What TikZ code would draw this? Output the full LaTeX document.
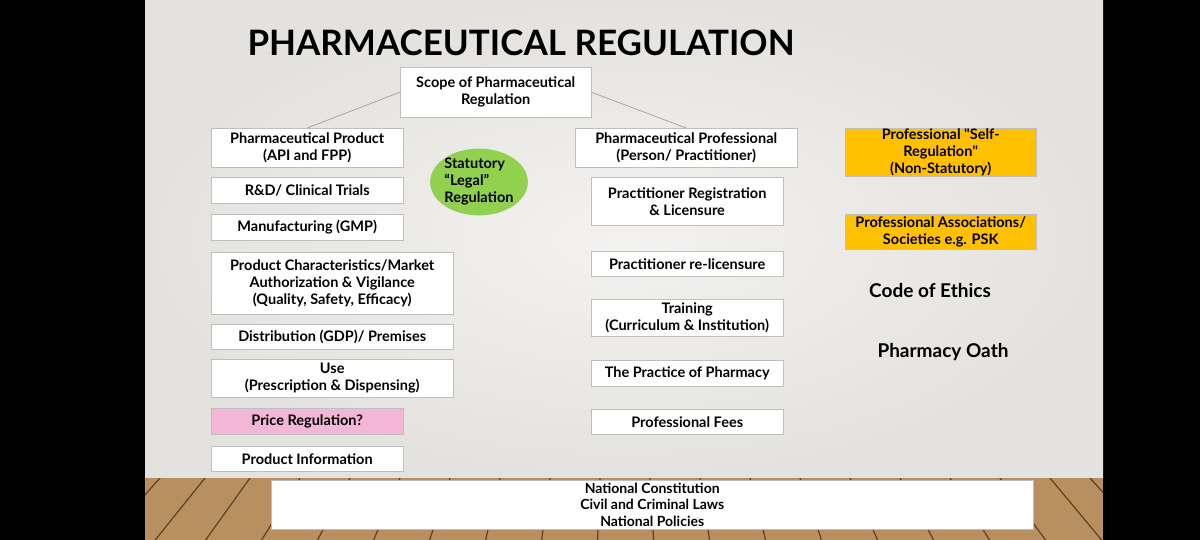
\documentclass[tikz,border=0pt]{standalone}
\usepackage{fontspec}
\setmainfont{Lato}
\newfontfamily\straightq{Lato}
\usetikzlibrary{shapes.geometric}

\definecolor{slidebg}{HTML}{E4E2DE}
\definecolor{slidelight}{HTML}{F3F2F0}
\definecolor{boxline}{HTML}{BFBFBF}
\definecolor{selfreg}{HTML}{FFC000}
\definecolor{legalgreen}{HTML}{92D050}
\definecolor{pricepink}{HTML}{F2B6D6}
\definecolor{woodlight}{HTML}{B8905F}
\definecolor{wooddark}{HTML}{5E3E24}

\newcommand{\dq}{{\straightq\bfseries"}}

\tikzset{
  regbox/.style={draw=boxline, fill=white, align=center, inner sep=0pt,
    anchor=north west, font=\bfseries\fontsize{14.5}{17}\selectfont},
  plaintext/.style={font=\bfseries\fontsize{19}{22}\selectfont},
  branch/.style={draw=gray!70, line width=0.8pt}
}

\begin{document}
\begin{tikzpicture}[x=1pt, y=-1pt]
      \useasboundingbox (0,0) rectangle (1200,540);

      % slide, black bars and floor
      \fill[black] (0,0) rectangle (1200,540);
      \shade[inner color=slidelight, outer color=slidebg] (145,0) rectangle (1103,478);
      \fill[woodlight] (145,478) rectangle (1103,540);
      \begin{scope}
        \clip (145,478) rectangle (1103,540);
        \foreach \x in {160,205,250,300,350,400,450,500,550,600,650,700,750,800,850,900,950,1000,1050,1090}
          \draw[wooddark, line width=1.2pt] (\x,478) -- ({\x+(\x-620)*0.12},540);
      \end{scope}

      % title
      \node[font=\bfseries\fontsize{35}{40}\selectfont] (title) at (521,43) {PHARMACEUTICAL REGULATION};

      \node[regbox, minimum width=191pt, minimum height=50pt] (scope) at (400,67)
        {Scope of Pharmaceutical\\Regulation};

      % product side
      \node[regbox, minimum width=192pt, minimum height=39pt] (prod) at (211,128)
        {Pharmaceutical Product\\(API and FPP)};
      \node[regbox, minimum width=192pt, minimum height=26pt] (rnd) at (211,177)
        {R\&D/ Clinical Trials};
      \node[regbox, minimum width=192pt, minimum height=26pt] (gmp) at (211,214)
        {Manufacturing (GMP)};
      \node[regbox, minimum width=242pt, minimum height=62pt] (market) at (211,252)
        {Product Characteristics/Market\\Authorization \& Vigilance\\(Quality, Safety, Efficacy)};
      \node[regbox, minimum width=242pt, minimum height=25pt] (gdp) at (211,324)
        {Distribution (GDP)/ Premises};
      \node[regbox, minimum width=242pt, minimum height=38pt] (use) at (211,359)
        {Use\\(Prescription \& Dispensing)};
      \node[regbox, fill=pricepink, minimum width=192pt, minimum height=26pt] (price) at (211,408)
        {Price Regulation?};
      \node[regbox, minimum width=192pt, minimum height=25pt] (info) at (211,446)
        {Product Information};

      \node[ellipse, fill=legalgreen, minimum width=96pt, minimum height=64pt, inner sep=0pt,
        align=left, font=\bfseries\fontsize{14.5}{17}\selectfont] (legal) at (479,182)
        {Statutory\\``Legal''\\Regulation};

      % professional side
      \node[regbox, minimum width=222pt, minimum height=39pt] (prof) at (575,128)
        {Pharmaceutical Professional\\(Person/ Practitioner)};
      \node[regbox, minimum width=192pt, minimum height=48pt] (registr) at (591,177)
        {Practitioner Registration\\\& Licensure};
      \node[regbox, minimum width=192pt, minimum height=25pt] (relic) at (591,251)
        {Practitioner re-licensure};
      \node[regbox, minimum width=192pt, minimum height=37pt] (training) at (591,299)
        {Training\\(Curriculum \& Institution)};
      \node[regbox, minimum width=192pt, minimum height=26pt] (practice) at (591,360)
        {The Practice of Pharmacy};
      \node[regbox, minimum width=192pt, minimum height=25pt] (fees) at (591,409)
        {Professional Fees};

      % self regulation
      \node[regbox, fill=selfreg, minimum width=191pt, minimum height=48pt] (selfreg) at (845,128)
        {Professional \dq Self-\\Regulation\dq\\(Non-Statutory)};
      \node[regbox, fill=selfreg, minimum width=191pt, minimum height=35pt] (assoc) at (845,214)
        {Professional Associations/\\Societies e.g. PSK};
      \node[plaintext] (ethics) at (930,291) {Code of Ethics};
      \node[plaintext] (oath) at (943,352) {Pharmacy Oath};

      % legal base
      \node[regbox, minimum width=762pt, minimum height=49pt,
        font=\bfseries\fontsize{14}{16.5}\selectfont] (law) at (271,480)
        {National Constitution\\Civil and Criminal Laws\\National Policies};

      \draw[branch] (scope.west) -- (prod.north);
      \draw[branch] (scope.east) -- (prof.north);
\end{tikzpicture}
\end{document}
